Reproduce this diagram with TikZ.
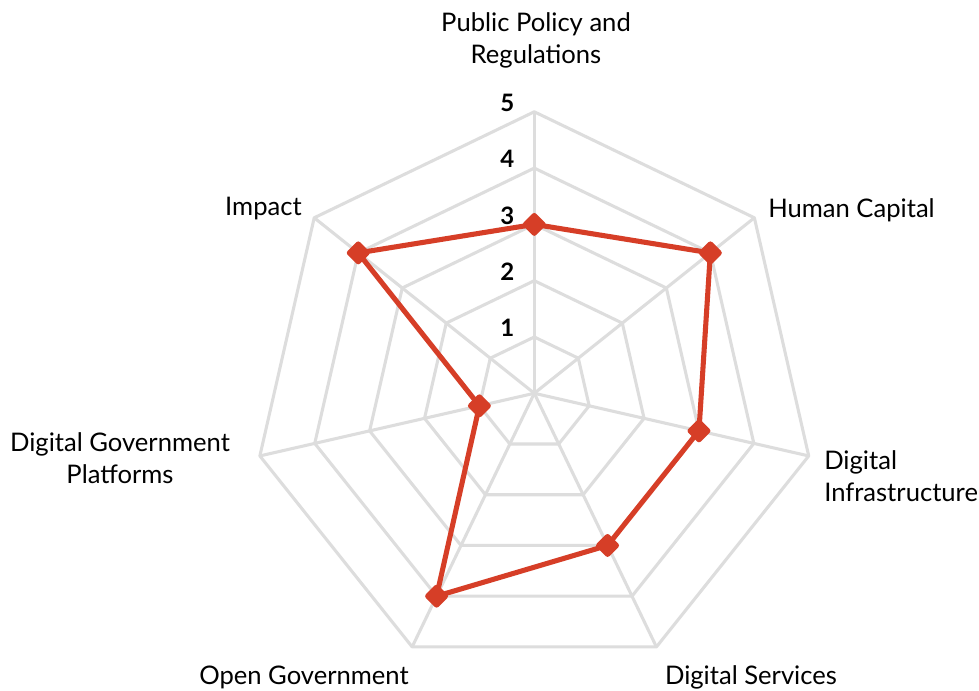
\documentclass[tikz,border=0pt]{standalone}
\usepackage{fontspec}
\setmainfont{Lato}
\usetikzlibrary{shapes.geometric, positioning}
\definecolor{gridgray}{RGB}{221,221,221}
\definecolor{scorered}{RGB}{214,62,39}

\begin{document}
\begin{tikzpicture}[
    x=0.75pt, y=0.75pt,
    gridline/.style={draw=gridgray, line width=2.3pt, line join=round},
    scoreline/.style={draw=scorered, line width=3.8pt, line join=round},
    marker/.style={diamond, fill=scorered, rounded corners=2pt,
                   minimum size=19pt, inner sep=0pt},
    axislabel/.style={font=\fontsize{19.2}{24}\selectfont, align=center, inner sep=0pt},
    levellabel/.style={font=\bfseries\fontsize{18}{18}\selectfont, inner sep=0pt}
]
    \fill[white] (-534.3,-297.7) rectangle (444.7,393.3);
    \useasboundingbox (-534.3,-297.7) rectangle (444.7,393.3);
    \def\lvl{56.3}
    \coordinate (o) at (0,0);

    % Web
    \foreach \k in {1,...,5}
        \draw[gridline] (90:\k*\lvl) \foreach \i in {1,...,6} { -- (90-\i*360/7:\k*\lvl) } -- cycle;
    \foreach \i in {0,...,6} {
        \coordinate (v\i) at (90-\i*360/7:5*\lvl);
        \draw[gridline] (o) -- (v\i);
    }

    % Scale
    \foreach \k in {1,...,5}
        \node[levellabel] (n\k) at (-27,\k*\lvl+9) {\k};

    % Scores
    \foreach \v [count=\i from 0] in {3,4,3,3,4,1,4}
        \node[marker] (s\i) at (90-\i*360/7:\v*\lvl) {};
    \draw[scoreline] (s0.center) \foreach \i in {1,...,6} { -- (s\i.center) } -- cycle;

    % Axis names
    \node[axislabel] (policy) at (1.7,353.3) {Public Policy and\\Regulations};
    \node[axislabel, anchor=west] (human) at (233.7,183.3) {Human Capital};
    \node[axislabel, anchor=west, align=left] (infra) at (289.7,-83.2) {Digital\\Infrastructure};
    \node[axislabel] (services) at (216.7,-284.2) {Digital Services};
    \node[axislabel] (open) at (-230.3,-284.2) {Open Government};
    \node[axislabel] (platforms) at (-414.3,-64.7) {Digital Government\\Platforms};
    \node[axislabel, anchor=east] (impact) at (-232.3,184.3) {Impact};
\end{tikzpicture}
\end{document}
